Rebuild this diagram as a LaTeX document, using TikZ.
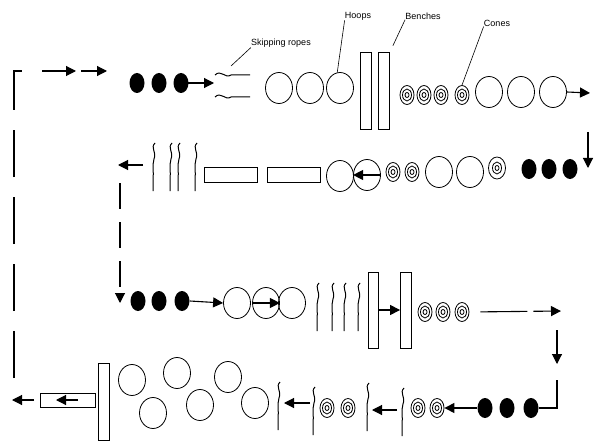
\documentclass[tikz,border=0pt]{standalone}
\usepackage{fontspec}
\setmainfont{Liberation Sans}
\usetikzlibrary{shapes.geometric, arrows.meta, positioning}

\begin{document}
\begin{tikzpicture}[
  x=1pt, y=-1pt, line width=0.8pt,
  pdot/.style={ellipse, fill=black, minimum width=15pt, minimum height=20pt, inner sep=0pt},
  hoop/.style={ellipse, draw, minimum width=27pt, minimum height=31pt, inner sep=0pt},
  cone/.style={ellipse, draw, minimum width=14pt, minimum height=19pt, inner sep=0pt,
    path picture={\draw (path picture bounding box.center) ellipse (4.5pt and 6pt);
                  \draw (path picture bounding box.center) ellipse (2pt and 2.5pt);}},
  bench/.style={draw, minimum width=11pt, minimum height=77pt, inner sep=0pt},
  mat/.style={draw, minimum width=53pt, minimum height=15pt, inner sep=0pt},
  lbl/.style={font=\fontsize{9}{10}\selectfont, inner sep=0pt},
  flow/.style={-{Triangle[length=10pt,width=10pt]}, line width=1.1pt},
  loopline/.style={flow, dash pattern=on 47pt off 20pt},
  vrope/.pic={\draw[line width=1pt] (2,0) .. controls (-3,5) and (4,9) .. (1,16)
                .. controls (-1,22) and (1,30) .. (0,36) -- (0,48);},
  hrope/.pic={\draw[line width=1pt] (0,0) .. controls (6,-6) and (10,4) .. (16,0) -- (35,0);}
]
  \useasboundingbox (0,0) rectangle (597,441);

  \node[pdot] (d11) at (137,83) {};
  \node[pdot] (d12) at (159,83) {};
  \node[pdot] (d13) at (181,83) {};
  \coordinate (a1) at (214,83);
  \draw[flow] (d13.center) -- (a1);
  \pic at (215,75) {hrope};
  \pic at (215,97) {hrope};
  \coordinate (r1) at (231,66);
  \node[hoop] (h11) at (279,88) {};
  \node[hoop] (h12) at (310,88) {};
  \node[hoop] (h13) at (340,88) {};
  \node[bench] (b11) at (366,91) {};
  \node[bench] (b12) at (384,91) {};
  \node[cone] (c11) at (407,95) {};
  \node[cone] (c12) at (424,95) {};
  \node[cone] (c13) at (441,95) {};
  \node[cone] (c14) at (462,95) {};
  \node[hoop] (h14) at (489,92) {};
  \node[hoop] (h15) at (521,92) {};
  \node[hoop] (h16) at (553,92) {};
  \coordinate (e1) at (590,93);
  \draw[flow] (h16.east) -- (e1);

  \node[lbl] (ropelbl) at (281,43) {Skipping ropes};
  \node[lbl] (hooplbl) at (358,16) {Hoops};
  \node[lbl] (benchlbl) at (423,16) {Benches};
  \node[lbl] (conelbl) at (497,23) {Cones};
  \draw[line width=0.6pt] (r1) -- (ropelbl.south west);
  \draw[line width=0.6pt] (h13.100) -- (hooplbl.south west);
  \draw[line width=0.6pt, shorten <=7pt] (b12.north east) -- (benchlbl.south west);
  \draw[line width=0.6pt] (c14.north) -- (conelbl.south west);

  \coordinate (ret) at (14,378);
  \coordinate (t1) at (76,71);
  \coordinate (t2) at (81,71);
  \coordinate (t3) at (107,71);
  \draw[loopline] (ret) |- (t1);
  \draw[flow] (t2) -- (t3);

  \coordinate (s1) at (588,132);
  \coordinate (s2) at (588,168);
  \draw[flow] (s1) -- (s2);

  \node[pdot] (d21) at (529,169) {};
  \node[pdot] (d22) at (549,169) {};
  \node[pdot] (d23) at (570,169) {};
  \node[cone, minimum width=17pt, minimum height=22pt] (c21) at (497,168) {};
  \node[hoop] (h21) at (470,172) {};
  \node[hoop] (h22) at (439,172) {};
  \node[cone] (c22) at (412,172) {};
  \node[cone] (c23) at (393,172) {};
  \node[hoop] (h23) at (367,175) {};
  \node[hoop] (h24) at (340,176) {};
  \draw[flow] (h23.east) -- (h23.west);
  \node[mat] (m21) at (294,175) {};
  \node[mat] (m22) at (231,175) {};
  \foreach \x in {153,170,178,195}
    \pic at (\x,143) {vrope};
  \coordinate (a2s) at (143,165);
  \coordinate (a2e) at (118,165);
  \draw[flow] (a2s) -- (a2e);
  \coordinate (v1) at (120,183);
  \coordinate (v2) at (120,303);
  \draw[flow, dash pattern=on 26pt off 13pt] (v1) -- (v2);

  \node[pdot] (d31) at (138,301) {};
  \node[pdot] (d32) at (159,301) {};
  \node[pdot] (d33) at (182,301) {};
  \node[hoop] (h31) at (237,303) {};
  \node[hoop] (h32) at (266,303) {};
  \node[hoop] (h33) at (292,303) {};
  \draw[flow] (d33.east) -- (h31.west);
  \draw[flow] (h32.west) -- (h32.east);
  \foreach \x in {317,332,344,358}
    \pic at (\x,283) {vrope};
  \node[bench, minimum width=10pt, minimum height=76pt] (b31) at (373,310) {};
  \node[bench, minimum width=11pt, minimum height=76pt] (b32) at (406,310) {};
  \draw[flow] (b31) -- (b32);
  \node[cone] (c31) at (425,312) {};
  \node[cone] (c32) at (443,312) {};
  \node[cone] (c33) at (462,312) {};
  \coordinate (e3) at (561,311);
  \draw[flow, dash pattern=on 47pt off 6pt, shorten <=11pt] (c33.east) -- (e3);
  \coordinate (s3) at (557,330);
  \coordinate (s4) at (557,364);
  \draw[flow] (s3) -- (s4);
  \coordinate (s5) at (557,380);

  \node[pdot] (d41) at (531,408) {};
  \node[pdot] (d42) at (507,408) {};
  \node[pdot] (d43) at (485,408) {};
  \draw[line width=1.1pt] (s5) |- (d41.east);
  \node[cone] (c41) at (437,408) {};
  \node[cone] (c42) at (418,408) {};
  \draw[flow] (d43.west) -- (c41.east);
  \pic at (402,388) {vrope};
  \coordinate (a3s) at (397,410);
  \coordinate (a3e) at (372,410);
  \draw[flow] (a3s) -- (a3e);
  \pic at (367,383) {vrope};
  \node[cone] (c43) at (348,408) {};
  \node[cone] (c44) at (327,408) {};
  \pic at (313,387) {vrope};
  \coordinate (a4s) at (310,403);
  \coordinate (a4e) at (284,403);
  \draw[flow] (a4s) -- (a4e);
  \pic at (278,382) {vrope};
  \node[hoop] (h41) at (255,403) {};
  \node[hoop] (h42) at (228,377) {};
  \node[hoop] (h43) at (200,405) {};
  \node[hoop] (h44) at (177,373) {};
  \node[hoop] (h45) at (153,413) {};
  \node[hoop] (h46) at (132,380) {};
  \node[bench] (b41) at (103.5,401.5) {};
  \node[mat, minimum width=55pt, minimum height=14pt] (m41) at (67.5,400) {};
  \coordinate (i4s) at (78,400);
  \coordinate (i4e) at (56,400);
  \draw[flow] (i4s) -- (i4e);
  \coordinate (o4s) at (34,400);
  \coordinate (o4e) at (12,400);
  \draw[flow] (o4s) -- (o4e);
\end{tikzpicture}
\end{document}
